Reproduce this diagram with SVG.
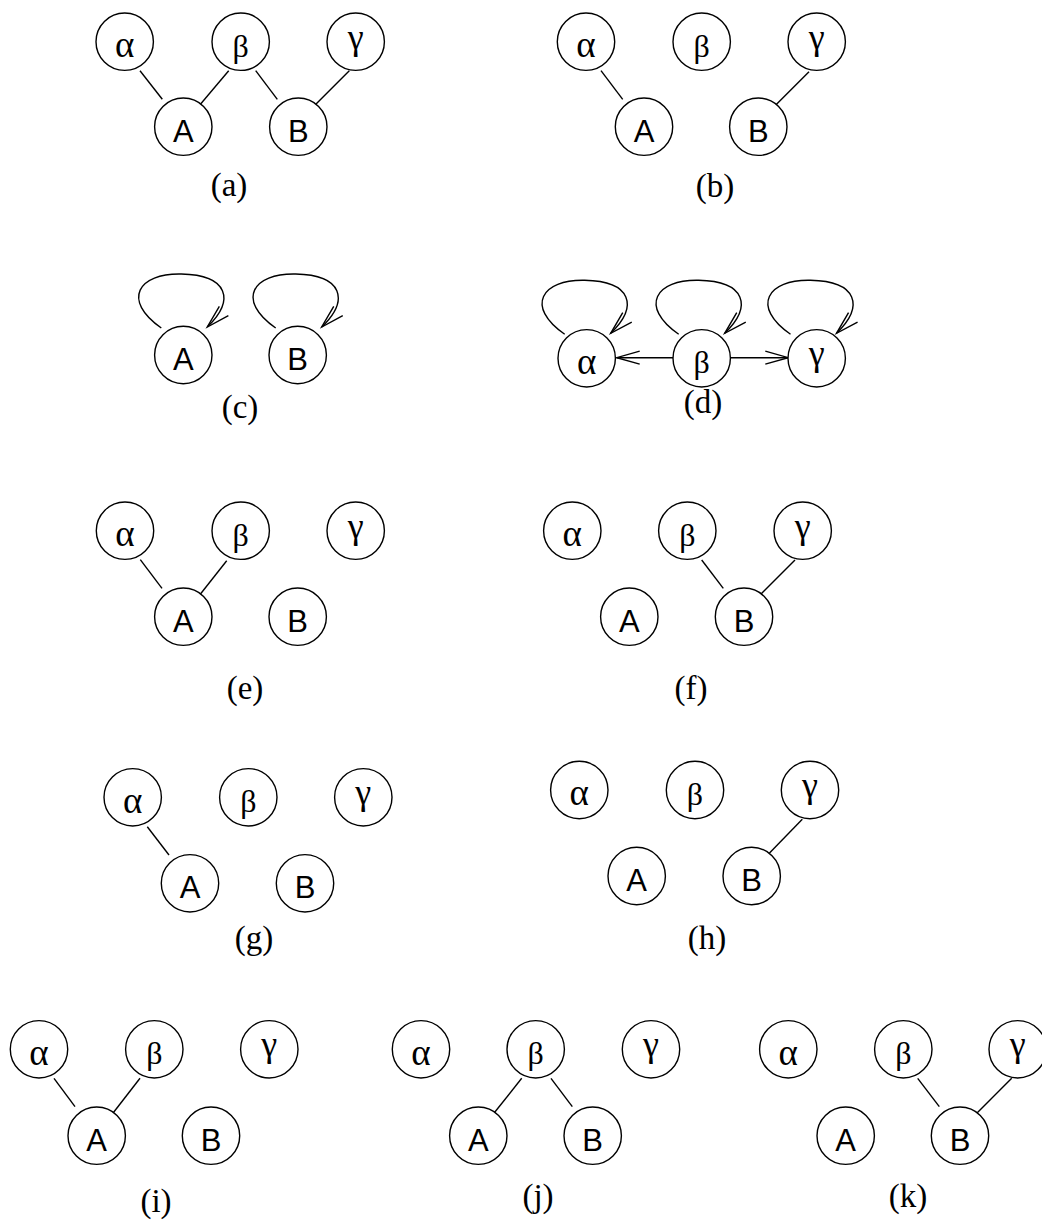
<svg xmlns="http://www.w3.org/2000/svg" width="1042" height="1225" viewBox="0 0 1042 1225">
<style>
.n circle{fill:#fff;stroke:#000;stroke-width:1.4}
.gr{font-family:"Liberation Serif","Times New Roman",serif;font-size:32px;text-anchor:middle;fill:#000}
.al{font-size:37px}
.ga{font-size:36px}
.la{font-family:"Liberation Sans",Arial,sans-serif;font-size:31px;text-anchor:middle;fill:#000}
.cap{font-family:"Liberation Serif","Times New Roman",serif;font-size:33px;text-anchor:middle;fill:#000}
#connectors line,#connectors path{fill:none;stroke:#000;stroke-width:1.4}
</style>
<defs>
<marker id="arr" markerUnits="userSpaceOnUse" markerWidth="40" markerHeight="30" viewBox="-30 -15 40 30" refX="0" refY="0" orient="auto" overflow="visible">
<path d="M-23,-6.5 L0,0 L-23,6.5" fill="none" stroke="#000" stroke-width="1.4"/>
</marker>
</defs>
<rect width="1042" height="1225" fill="#fff"/>

<g id="connectors">
<!-- (a) -->
<line x1="140" y1="70.7" x2="162.3" y2="99.3"/>
<line x1="228.7" y1="70.7" x2="198.3" y2="106.7"/>
<line x1="255.7" y1="70.7" x2="277.3" y2="99.3"/>
<line x1="349.3" y1="70.7" x2="313.3" y2="106.7"/>
<!-- (b) -->
<line x1="601" y1="70.7" x2="622.7" y2="99.3"/>
<line x1="809" y1="71.7" x2="774" y2="106.7"/>
<!-- (c) loops -->
<path transform="translate(183.3,355)" d="M-22,-27 C-62,-55 -45,-82 -2,-81 C45,-80 52,-55 24,-28" marker-end="url(#arr)"/>
<path transform="translate(297.7,355)" d="M-22,-27 C-62,-55 -45,-82 -2,-81 C45,-80 52,-55 24,-28" marker-end="url(#arr)"/>
<!-- (d) loops and arrows -->
<path transform="translate(586.7,361.3)" d="M-22,-27 C-62,-55 -45,-82 -2,-81 C45,-80 52,-55 24,-28" marker-end="url(#arr)"/>
<path transform="translate(700.7,361.3)" d="M-22,-27 C-62,-55 -45,-82 -2,-81 C45,-80 52,-55 24,-28" marker-end="url(#arr)"/>
<path transform="translate(812.5,361.3)" d="M-22,-27 C-62,-55 -45,-82 -2,-81 C45,-80 52,-55 24,-28" marker-end="url(#arr)"/>
<line x1="673.3" y1="357.7" x2="616.7" y2="357.7" marker-end="url(#arr)"/>
<line x1="730.7" y1="357.7" x2="788.3" y2="357.7" marker-end="url(#arr)"/>
<!-- (e) -->
<line x1="140.3" y1="559.7" x2="162" y2="588.3"/>
<line x1="226.7" y1="560.7" x2="198.3" y2="596.7"/>
<!-- (f) -->
<line x1="701.7" y1="560" x2="723.3" y2="588.3"/>
<line x1="795" y1="560" x2="760" y2="595"/>
<!-- (g) -->
<line x1="147.3" y1="826.7" x2="169" y2="855"/>
<!-- (h) -->
<line x1="802.3" y1="819.3" x2="768.3" y2="854.3"/>
<!-- (i) -->
<line x1="54" y1="1078.3" x2="75" y2="1106.7"/>
<line x1="140" y1="1078.3" x2="112.3" y2="1114"/>
<!-- (j) -->
<line x1="521.7" y1="1078.3" x2="493.3" y2="1114"/>
<line x1="551" y1="1078.3" x2="572.3" y2="1106.7"/>
<!-- (k) -->
<line x1="917.7" y1="1078.3" x2="939.3" y2="1106.7"/>
<line x1="1011.7" y1="1078.3" x2="976" y2="1114"/>
</g>

<!-- (a) -->
<g id="a-alpha" class="n"><circle cx="124.7" cy="41.7" r="28.7"/><text class="gr al" x="124.7" y="57">α</text></g>
<g id="a-beta" class="n"><circle cx="240.7" cy="41.7" r="28.7"/><text class="gr" x="240.7" y="56.7">β</text></g>
<g id="a-gamma" class="n"><circle cx="355.7" cy="41.7" r="28.7"/><text class="gr ga" x="355.7" y="48.5">γ</text></g>
<g id="a-A" class="n"><circle cx="183.3" cy="126.7" r="28.7"/><text class="la" x="183.3" y="141.7">A</text></g>
<g id="a-B" class="n"><circle cx="298.3" cy="126.7" r="28.7"/><text class="la" x="298.3" y="141.7">B</text></g>
<text class="cap" x="229" y="196">(a)</text>

<!-- (b) -->
<g id="b-alpha" class="n"><circle cx="586" cy="41.7" r="28.7"/><text class="gr al" x="586" y="57">α</text></g>
<g id="b-beta" class="n"><circle cx="701.7" cy="41.7" r="28.7"/><text class="gr" x="701.7" y="56.7">β</text></g>
<g id="b-gamma" class="n"><circle cx="816.7" cy="41.7" r="28.7"/><text class="gr ga" x="816.7" y="48.5">γ</text></g>
<g id="b-A" class="n"><circle cx="644" cy="126.7" r="28.7"/><text class="la" x="644" y="141.7">A</text></g>
<g id="b-B" class="n"><circle cx="758.3" cy="126.7" r="28.7"/><text class="la" x="758.3" y="141.7">B</text></g>
<text class="cap" x="715" y="197">(b)</text>

<!-- (c) -->
<g id="c-A" class="n"><circle cx="183.3" cy="355" r="28.7"/><text class="la" x="183.3" y="370">A</text></g>
<g id="c-B" class="n"><circle cx="297.7" cy="355" r="28.7"/><text class="la" x="297.7" y="370">B</text></g>
<text class="cap" x="240" y="418">(c)</text>

<!-- (d) -->
<g id="d-alpha" class="n"><circle cx="586.7" cy="358.3" r="28.7"/><text class="gr al" x="586.7" y="373.6">α</text></g>
<g id="d-beta" class="n"><circle cx="701.7" cy="358.3" r="28.7"/><text class="gr" x="701.7" y="373.3">β</text></g>
<g id="d-gamma" class="n"><circle cx="816.7" cy="358.3" r="28.7"/><text class="gr ga" x="816.7" y="365.1">γ</text></g>
<text class="cap" x="703" y="413">(d)</text>

<!-- (e) -->
<g id="e-alpha" class="n"><circle cx="125" cy="530.7" r="28.7"/><text class="gr al" x="125" y="546">α</text></g>
<g id="e-beta" class="n"><circle cx="240.7" cy="530.7" r="28.7"/><text class="gr" x="240.7" y="545.7">β</text></g>
<g id="e-gamma" class="n"><circle cx="355.7" cy="530.7" r="28.7"/><text class="gr ga" x="355.7" y="537.5">γ</text></g>
<g id="e-A" class="n"><circle cx="183.3" cy="616.7" r="28.7"/><text class="la" x="183.3" y="631.7">A</text></g>
<g id="e-B" class="n"><circle cx="297.7" cy="616.7" r="28.7"/><text class="la" x="297.7" y="631.7">B</text></g>
<text class="cap" x="245" y="699">(e)</text>

<!-- (f) -->
<g id="f-alpha" class="n"><circle cx="572.3" cy="530.7" r="28.7"/><text class="gr al" x="572.3" y="546">α</text></g>
<g id="f-beta" class="n"><circle cx="687.3" cy="530.7" r="28.7"/><text class="gr" x="687.3" y="545.7">β</text></g>
<g id="f-gamma" class="n"><circle cx="802.7" cy="530.7" r="28.7"/><text class="gr ga" x="802.7" y="537.5">γ</text></g>
<g id="f-A" class="n"><circle cx="629.3" cy="616.7" r="28.7"/><text class="la" x="629.3" y="631.7">A</text></g>
<g id="f-B" class="n"><circle cx="744" cy="616.7" r="28.7"/><text class="la" x="744" y="631.7">B</text></g>
<text class="cap" x="691" y="699">(f)</text>

<!-- (g) -->
<g id="g-alpha" class="n"><circle cx="132.7" cy="797.3" r="28.7"/><text class="gr al" x="132.7" y="812.6">α</text></g>
<g id="g-beta" class="n"><circle cx="248.3" cy="797.3" r="28.7"/><text class="gr" x="248.3" y="812.3">β</text></g>
<g id="g-gamma" class="n"><circle cx="363.3" cy="797.3" r="28.7"/><text class="gr ga" x="363.3" y="804.1">γ</text></g>
<g id="g-A" class="n"><circle cx="190" cy="883.3" r="28.7"/><text class="la" x="190" y="898.3">A</text></g>
<g id="g-B" class="n"><circle cx="305" cy="883.3" r="28.7"/><text class="la" x="305" y="898.3">B</text></g>
<text class="cap" x="254" y="949">(g)</text>

<!-- (h) -->
<g id="h-alpha" class="n"><circle cx="579.3" cy="790" r="28.7"/><text class="gr al" x="579.3" y="805.3">α</text></g>
<g id="h-beta" class="n"><circle cx="695" cy="790" r="28.7"/><text class="gr" x="695" y="805">β</text></g>
<g id="h-gamma" class="n"><circle cx="810" cy="790" r="28.7"/><text class="gr ga" x="810" y="796.8">γ</text></g>
<g id="h-A" class="n"><circle cx="636.7" cy="876" r="28.7"/><text class="la" x="636.7" y="891">A</text></g>
<g id="h-B" class="n"><circle cx="751.7" cy="876" r="28.7"/><text class="la" x="751.7" y="891">B</text></g>
<text class="cap" x="707" y="949">(h)</text>

<!-- (i) -->
<g id="i-alpha" class="n"><circle cx="39" cy="1049.3" r="28.7"/><text class="gr al" x="39" y="1064.6">α</text></g>
<g id="i-beta" class="n"><circle cx="154.3" cy="1049.3" r="28.7"/><text class="gr" x="154.3" y="1064.3">β</text></g>
<g id="i-gamma" class="n"><circle cx="269.3" cy="1049.3" r="28.7"/><text class="gr ga" x="269.3" y="1056.1">γ</text></g>
<g id="i-A" class="n"><circle cx="96.7" cy="1135.7" r="28.7"/><text class="la" x="96.7" y="1150.7">A</text></g>
<g id="i-B" class="n"><circle cx="211" cy="1135.7" r="28.7"/><text class="la" x="211" y="1150.7">B</text></g>
<text class="cap" x="156" y="1212">(i)</text>

<!-- (j) -->
<g id="j-alpha" class="n"><circle cx="421" cy="1049.3" r="28.7"/><text class="gr al" x="421" y="1064.6">α</text></g>
<g id="j-beta" class="n"><circle cx="535.7" cy="1049.3" r="28.7"/><text class="gr" x="535.7" y="1064.3">β</text></g>
<g id="j-gamma" class="n"><circle cx="651" cy="1049.3" r="28.7"/><text class="gr ga" x="651" y="1056.1">γ</text></g>
<g id="j-A" class="n"><circle cx="478.3" cy="1135.7" r="28.7"/><text class="la" x="478.3" y="1150.7">A</text></g>
<g id="j-B" class="n"><circle cx="592.7" cy="1135.7" r="28.7"/><text class="la" x="592.7" y="1150.7">B</text></g>
<text class="cap" x="538" y="1207">(j)</text>

<!-- (k) -->
<g id="k-alpha" class="n"><circle cx="788.3" cy="1049.3" r="28.7"/><text class="gr al" x="788.3" y="1064.6">α</text></g>
<g id="k-beta" class="n"><circle cx="903.3" cy="1049.3" r="28.7"/><text class="gr" x="903.3" y="1064.3">β</text></g>
<g id="k-gamma" class="n"><circle cx="1017.7" cy="1049.3" r="28.7"/><text class="gr ga" x="1017.7" y="1056.1">γ</text></g>
<g id="k-A" class="n"><circle cx="845.7" cy="1135.7" r="28.7"/><text class="la" x="845.7" y="1150.7">A</text></g>
<g id="k-B" class="n"><circle cx="960" cy="1135.7" r="28.7"/><text class="la" x="960" y="1150.7">B</text></g>
<text class="cap" x="908" y="1207">(k)</text>
</svg>
